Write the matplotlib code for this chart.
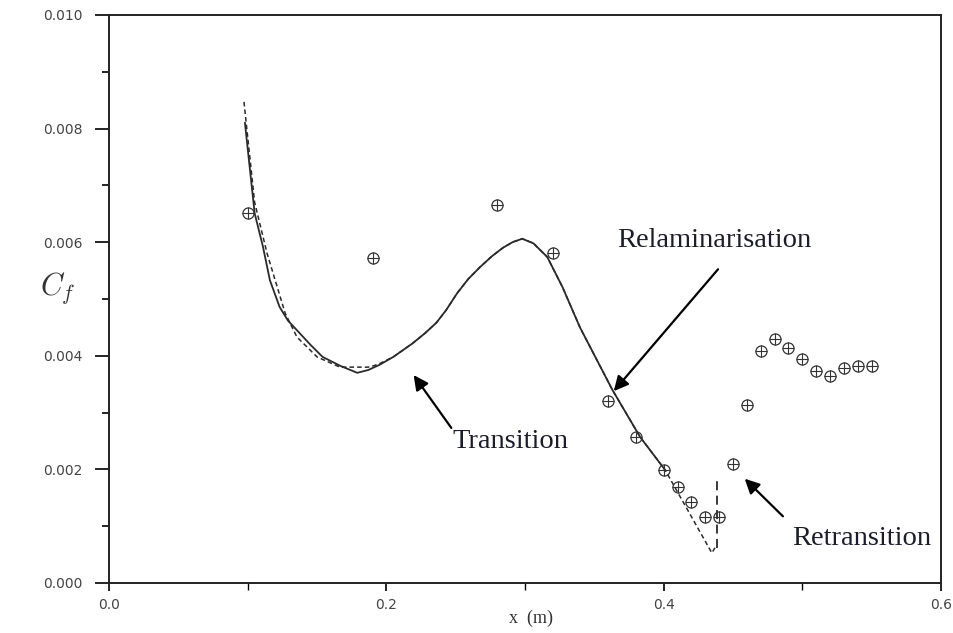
import matplotlib.pyplot as plt

plt.rcParams['mathtext.fontset'] = 'cm'

# mesures (cercles barrés)
x_mes = [0.10, 0.19, 0.28, 0.32, 0.36, 0.38, 0.40, 0.41, 0.42, 0.43, 0.44,
         0.45, 0.46, 0.47, 0.48, 0.49, 0.50, 0.51, 0.52, 0.53, 0.54, 0.55]
cf_mes = [0.00651, 0.00572, 0.00666, 0.00581, 0.00320, 0.00257, 0.00199,
          0.00169, 0.00143, 0.00116, 0.00116, 0.00209, 0.00313, 0.00408,
          0.00430, 0.00414, 0.00394, 0.00373, 0.00364, 0.00378, 0.00382, 0.00382]

# calcul 1 (trait plein)
x_calc1 = [0.098, 0.105, 0.111, 0.116, 0.123, 0.129, 0.1355, 0.145, 0.154,
           0.167, 0.179, 0.187, 0.195, 0.205, 0.219, 0.228, 0.236, 0.243,
           0.251, 0.259, 0.2675, 0.276, 0.284, 0.291, 0.298, 0.306, 0.316,
           0.327, 0.3396, 0.363, 0.383, 0.401]
cf_calc1 = [0.0081, 0.00651, 0.00592, 0.00533, 0.00486, 0.00462, 0.00445,
            0.00420, 0.00398, 0.00382, 0.00370, 0.00375, 0.00384, 0.00398,
            0.00422, 0.00440, 0.00458, 0.00480, 0.00510, 0.00535, 0.00556,
            0.00575, 0.00590, 0.00600, 0.00606, 0.00598, 0.00574, 0.00521,
            0.00450, 0.00340, 0.00257, 0.00199]

# calcul 2 (pointillés)
x_calc2 = [0.0973, 0.105, 0.114, 0.127, 0.1355, 0.150, 0.1665, 0.188, 0.195,
           0.205, 0.219, 0.228, 0.236, 0.243, 0.251, 0.259, 0.2675, 0.276,
           0.284, 0.291, 0.298, 0.306, 0.316, 0.327, 0.3396, 0.363, 0.383,
           0.401, 0.4347, 0.437]
cf_calc2 = [0.00847, 0.0067, 0.0058, 0.00475, 0.00433, 0.00398, 0.0038,
            0.0038, 0.00386, 0.00398, 0.00422, 0.00440, 0.00458, 0.00480,
            0.00510, 0.00535, 0.00556, 0.00575, 0.00590, 0.00600, 0.00606,
            0.00598, 0.00574, 0.00521, 0.00450, 0.00340, 0.00257, 0.00199,
            0.00053, 0.00062]
x_saut = [0.4385, 0.4385]
cf_saut = [0.00062, 0.00187]

fig = plt.figure(figsize=(9.54, 6.33), dpi=100)
ax = fig.add_axes([0.1143, 0.079, 0.8721, 0.8974])

ax.plot(x_calc1, cf_calc1, '-', color='#2a2a2a', lw=1.3)
ax.plot(x_calc2, cf_calc2, color='#2a2a2a', lw=1.1, linestyle=(0, (3, 2)))
ax.plot(x_saut, cf_saut, color='#2a2a2a', lw=1.3, linestyle=(0, (5, 3)))
ax.plot(x_mes, cf_mes, 'o', ms=8, mfc='none', mec='#333333', mew=0.9)
ax.plot(x_mes, cf_mes, '+', ms=8, mec='#333333', mew=0.8)

ax.set_xlim(0.0, 0.6)
ax.set_ylim(0.0, 0.010)
ax.set_xticks([0.0, 0.2, 0.4, 0.6])
ax.set_xticklabels(['0.0', '0.2', '0.4', '0.6'])
ax.set_xticks([0.1, 0.3, 0.5], minor=True)
ax.set_yticks([0.000, 0.002, 0.004, 0.006, 0.008, 0.010])
ax.set_yticklabels(['0.000', '0.002', '0.004', '0.006', '0.008', '0.010'])
ax.set_yticks([0.001, 0.003, 0.005, 0.007, 0.009], minor=True)
ax.tick_params(axis='y', which='major', length=10, width=1.2, pad=9,
               labelsize=10, labelcolor='#444444')
ax.tick_params(axis='y', which='minor', length=5, width=1.2)
ax.tick_params(axis='x', which='major', length=6, width=1.2, pad=5,
               labelsize=10, labelcolor='#444444')
ax.tick_params(axis='x', which='minor', length=5, width=1.0)
for s in ax.spines.values():
    s.set_linewidth(1.4)
    s.set_color('#222222')

fig.text(0.061, 0.545, r'$C_f$', fontsize=22, ha='center', va='center', color='#333333')
fig.text(0.557, 0.023, 'x  (m)', family='Liberation Serif', fontsize=13,
         color='#333333', ha='center', va='center')

fleche = dict(arrowstyle='-|>', mutation_scale=22, lw=1.6, color='black')
police = dict(family='Liberation Serif', fontsize=20.5, color='#1c1c2a')

ax.annotate('', xy=(0.2185, 0.00370), xytext=(0.248, 0.00269), arrowprops=fleche)
ax.text(0.248, 0.00238, 'Transition', ha='left', va='baseline', **police)

ax.annotate('', xy=(0.3627, 0.00334), xytext=(0.4405, 0.00556), arrowprops=fleche)
ax.text(0.3663, 0.00592, 'Relaminarisation', ha='left', va='baseline', **police)

ax.annotate('', xy=(0.457, 0.00187), xytext=(0.4874, 0.00114), arrowprops=fleche)
ax.text(0.4924, 0.00067, 'Retransition', ha='left', va='baseline', **police)

plt.savefig('out.png', dpi=100)
